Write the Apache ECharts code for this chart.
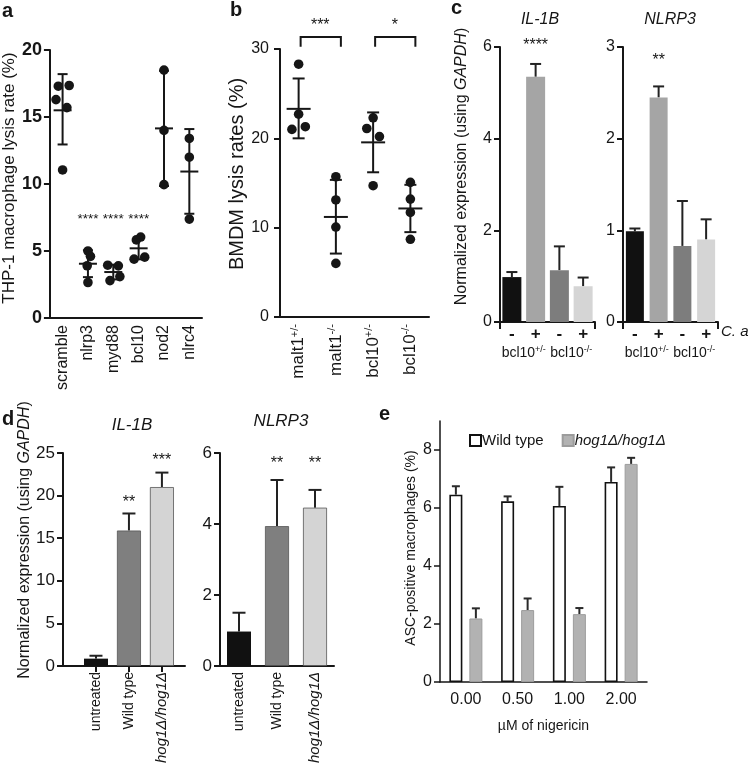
<!DOCTYPE html>
<html><head><meta charset="utf-8">
<script src="https://cdn.jsdelivr.net/npm/echarts@6/dist/echarts.min.js"></script>
<style>html,body{margin:0;padding:0;background:#fff}#c{width:750px;height:766px}</style>
</head><body><div id="c"></div>
<script>
// ---------------- DATA ----------------
// Panel a: THP-1 macrophage lysis rate (%)
const aCategories = ['scramble', 'nlrp3', 'myd88', 'bcl10', 'nod2', 'nlrc4'];
const aPoints = [
  [17.3, 17.35, 16.3, 15.7, 11.05],
  [5.0, 4.6, 3.9, 2.65],
  [3.94, 3.89, 2.79, 3.09],
  [6.04, 5.83, 4.54, 4.39],
  [18.5, 14.0, 9.95],
  [13.4, 12.0, 7.38]
];
const aJitter = [
  [-0.17, 0.26, -0.26, 0.17, 0],
  [0, 0.1, -0.03, 0],
  [-0.22, 0.2, -0.13, 0.26],
  [0.08, -0.09, 0.24, -0.18],
  [0, 0, 0],
  [0, 0, 0]
];
const aMean = [15.5, 4.05, 3.43, 5.2, 14.15, 10.93];
const aLow = [12.95, 3.05, 2.88, 4.38, 9.85, 7.78];
const aHigh = [18.2, 5.05, 3.98, 6.04, 18.45, 14.1];
const aStars = ['', '****', '****', '****', '', ''];
const aStarY = 7.6;

// Panel b: BMDM lysis rates (%)
const bCategories = ['malt1+/-', 'malt1-/-', 'bcl10+/-', 'bcl10-/-'];
const bPoints = [
  [28.3, 22.7, 21.0, 21.3],
  [15.7, 13.1, 10.07, 6.0],
  [22.3, 21.1, 20.2, 14.7],
  [15.07, 13.2, 11.7, 8.7]
];
const bJitter = [
  [0, 0, -0.18, 0.18],
  [0, 0, 0, 0],
  [0, -0.17, 0.17, 0],
  [0, 0, 0, 0]
];
const bMean = [23.3, 11.2, 19.55, 12.15];
const bLow = [20.0, 7.1, 16.2, 9.5];
const bHigh = [26.7, 15.35, 22.9, 14.8];
const bComparisons = [[0, 1, '***'], [2, 3, '*']];

// Panel c: normalized expression, bcl10 BMDMs -/+ C. albicans
const cTreatment = ['-', '+', '-', '+'];
const cGenotypes = ['bcl10+/-', 'bcl10-/-'];
const cIL1B = [0.98, 5.35, 1.13, 0.78];
const cIL1BErr = [1.09, 5.63, 1.65, 0.97];
const cNLRP3 = [0.99, 2.45, 0.83, 0.90];
const cNLRP3Err = [1.02, 2.57, 1.32, 1.12];
const cIL1BStars = ['', '****', '', ''];
const cIL1BStarY = 6.1;
const cNLRP3Stars = ['', '**', '', ''];
const cNLRP3StarY = 2.88;

// Panel d: normalized expression, THP-1 infected with C. albicans strains
const dCategories = ['untreated', 'Wild type', 'hog1Δ/hog1Δ'];
const dIL1B = [0.86, 15.9, 21.0];
const dIL1BErr = [1.2, 17.9, 22.7];
const dNLRP3 = [0.97, 3.94, 4.46];
const dNLRP3Err = [1.5, 5.24, 4.96];
const dIL1BStars = ['', '**', '***'];
const dIL1BStarY = [0, 19.5, 24.5];
const dNLRP3Stars = ['', '**', '**'];
const dNLRP3StarY = [0, 5.8, 5.8];

// Panel e: ASC-positive macrophages (%)
const eDoses = ['0.00', '0.50', '1.00', '2.00'];
const eSeriesNames = ['Wild type', 'hog1Δ/hog1Δ'];
const eWT = [6.46, 6.23, 6.07, 6.9];
const eWTErr = [6.75, 6.4, 6.73, 7.4];
const eHog = [2.19, 2.48, 2.34, 7.52];
const eHogErr = [2.54, 2.88, 2.55, 7.73];
const eTicks = [0, 2, 4, 6, 8];

// ---------------- STYLE ----------------
const FONT = '"Liberation Sans", Arial, Helvetica, sans-serif';
const INK = '#161616';
const cColors = ['#111111', '#a5a5a5', '#7d7d7d', '#d5d5d5'];
const dColors = ['#111111', '#7f7f7f', '#d4d4d4'];
const STAR_DROP = 3; // asterisks sit high in the em box

function supRich(size, supSize) {
  return {
    n: { fontSize: size, lineHeight: size + 2, fontFamily: FONT, color: INK },
    s: { fontSize: supSize, lineHeight: size + 2, verticalAlign: 'top', fontFamily: FONT, color: INK }
  };
}
function supFmt(name) {
  const m = /^(.*?)([+-]\/-)$/.exec(name);
  return m ? '{n|' + m[1] + '}{s|' + m[2] + '}' : '{n|' + name + '}';
}
function italFmt(name) {
  return name.indexOf('hog') === 0 ? '{i|' + name + '}' : name;
}
const italRich = size => ({ i: { fontStyle: 'italic', fontSize: size, fontFamily: FONT, color: INK } });

function axisLine(w) { return { show: true, lineStyle: { color: INK, width: w } }; }

function yAxis(grid, min, max, interval, extra) {
  return Object.assign({
    type: 'value', gridIndex: grid, min, max, interval,
    axisLine: axisLine(2), axisTick: { show: true, length: 6, lineStyle: { color: INK, width: 2 } },
    splitLine: { show: false },
    axisLabel: { fontSize: 16, color: INK, fontFamily: FONT, margin: 8 },
    nameLocation: 'middle', nameRotate: 90
  }, extra || {});
}
function yName(size, shift) {
  return { fontSize: size, color: INK, fontFamily: FONT, padding: [0, 0, 0, shift], rich: italRich(size) };
}

// ---------------- CUSTOM RENDERERS ----------------
function dotsSeries(xi, yi, points, jitter, r) {
  const data = [];
  points.forEach((arr, c) => arr.forEach((v, k) => data.push([c, v, jitter[c][k]])));
  return {
    type: 'custom', xAxisIndex: xi, yAxisIndex: yi, data, silent: true, z: 5,
    renderItem(params, api) {
      const p = api.coord([api.value(0), api.value(1)]);
      const band = api.size([1, 0])[0];
      return { type: 'circle', shape: { cx: p[0] + api.value(2) * band, cy: p[1], r }, style: { fill: INK } };
    }
  };
}
function meanSdSeries(xi, yi, mean, low, high, meanHalf, capHalf) {
  return {
    type: 'custom', xAxisIndex: xi, yAxisIndex: yi, silent: true, z: 6,
    data: mean.map((m, i) => [i, m, low[i], high[i]]),
    renderItem(params, api) {
      const x = api.value(0);
      const pm = api.coord([x, api.value(1)]);
      const pl = api.coord([x, api.value(2)]);
      const ph = api.coord([x, api.value(3)]);
      const st = { stroke: INK, lineWidth: 2 };
      return {
        type: 'group', children: [
          { type: 'line', shape: { x1: pl[0], y1: pl[1], x2: ph[0], y2: ph[1] }, style: st },
          { type: 'line', shape: { x1: pl[0] - capHalf, y1: pl[1], x2: pl[0] + capHalf, y2: pl[1] }, style: st },
          { type: 'line', shape: { x1: ph[0] - capHalf, y1: ph[1], x2: ph[0] + capHalf, y2: ph[1] }, style: st },
          { type: 'line', shape: { x1: pm[0] - meanHalf, y1: pm[1], x2: pm[0] + meanHalf, y2: pm[1] }, style: st }
        ]
      };
    }
  };
}
function barErrSeries(xi, yi, xs, tops, errs, capHalf, dx, color, lw) {
  return {
    type: 'custom', xAxisIndex: xi, yAxisIndex: yi, silent: true, z: 1,
    data: tops.map((t, i) => [xs[i], t, errs[i]]),
    renderItem(params, api) {
      const pt = api.coord([api.value(0), api.value(1)]);
      const pe = api.coord([api.value(0), api.value(2)]);
      const x = pt[0] + dx;
      const st = { stroke: color, lineWidth: lw };
      return {
        type: 'group', children: [
          { type: 'line', shape: { x1: x, y1: pt[1], x2: x, y2: pe[1] }, style: st },
          { type: 'line', shape: { x1: x - capHalf, y1: pe[1], x2: x + capHalf, y2: pe[1] }, style: st }
        ]
      };
    }
  };
}
function starSeries(xi, yi, xs, ys, labels, size) {
  const data = [];
  labels.forEach((l, i) => { if (l) data.push([xs[i], Array.isArray(ys) ? ys[i] : ys, l]); });
  return {
    type: 'custom', xAxisIndex: xi, yAxisIndex: yi, silent: true, z: 7,
    data,
    renderItem(params, api) {
      const p = api.coord([api.value(0), api.value(1)]);
      return { type: 'text', x: p[0], y: p[1] + STAR_DROP, style: { text: data[params.dataIndex][2], fill: INK, font: size + 'px ' + FONT, align: 'center', verticalAlign: 'middle' } };
    }
  };
}
function bracketSeries(xi, yi, comps, yTop, yLeg, yStar) {
  return {
    type: 'custom', xAxisIndex: xi, yAxisIndex: yi, silent: true, z: 7,
    data: comps.map(c => [c[0], c[1]]),
    renderItem(params, api) {
      const c = comps[params.dataIndex];
      const p1 = api.coord([c[0], yTop]);
      const p2 = api.coord([c[1], yTop]);
      const leg = api.coord([c[0], yLeg]);
      const ps = api.coord([c[0], yStar]);
      const st = { stroke: INK, lineWidth: 2, fill: null };
      return {
        type: 'group', children: [
          { type: 'polyline', shape: { points: [[p1[0] + 2, leg[1]], [p1[0] + 2, p1[1]], [p2[0] + 5, p2[1]], [p2[0] + 5, leg[1]]] }, style: st },
          { type: 'text', x: (p1[0] + p2[0]) / 2 + 3, y: ps[1] + STAR_DROP, style: { text: c[2], fill: INK, font: '16px ' + FONT, align: 'center', verticalAlign: 'middle' } }
        ]
      };
    }
  };
}

const idx = arr => arr.map((_, i) => i);
const idx1 = arr => arr.map((_, i) => i + 1);

// ---------------- OPTION ----------------
const gapdhName = 'Normalized expression (using {i|GAPDH})';
const tickStyle = { width: 2, color: INK };

const option = {
  animation: false,
  backgroundColor: '#ffffff',
  textStyle: { fontFamily: FONT, color: INK },
  grid: [
    { left: 49, top: 50, width: 153, height: 268 },   // a
    { left: 280, top: 49, width: 149, height: 268 },  // b
    { left: 500, top: 47, width: 95, height: 275 },   // c IL-1B
    { left: 623, top: 47, width: 95, height: 275 },   // c NLRP3
    { left: 63, top: 453, width: 122, height: 213 },  // d IL-1B
    { left: 220, top: 453, width: 114, height: 213 }, // d NLRP3
    { left: 440, top: 421, width: 207, height: 261 }  // e
  ],
  xAxis: [
    // 0 a
    { type: 'category', gridIndex: 0, data: aCategories, axisLine: axisLine(2),
      axisTick: { alignWithLabel: true, length: 6, lineStyle: tickStyle },
      axisLabel: { rotate: 90, interval: 0, fontSize: 16, color: INK, fontFamily: FONT, margin: 7 } },
    // 1 b
    { type: 'category', gridIndex: 1, data: bCategories, axisLine: axisLine(2),
      axisTick: { alignWithLabel: true, length: 6, lineStyle: tickStyle },
      axisLabel: { rotate: 90, interval: 0, margin: 7, formatter: supFmt, rich: supRich(17, 11) } },
    // 2 c IL-1B treatment row
    { type: 'category', gridIndex: 2, position: 'bottom', data: idx(cTreatment), axisLine: axisLine(2),
      axisTick: { show: true, interval: (i) => i === 2, length: 7, lineStyle: tickStyle },
      axisLabel: { interval: 0, fontSize: 17, fontWeight: 'bold', color: INK, margin: 4, formatter: (v, i) => cTreatment[i] } },
    // 3 c IL-1B genotype row
    { type: 'category', gridIndex: 2, position: 'bottom', data: cGenotypes, offset: 19, axisLine: { show: false }, axisTick: { show: false },
      axisLabel: { interval: 0, margin: 4, formatter: supFmt, rich: supRich(14, 9) } },
    // 4 c NLRP3 treatment row
    { type: 'category', gridIndex: 3, position: 'bottom', data: idx(cTreatment), axisLine: axisLine(2),
      axisTick: { show: true, interval: (i) => i === 2, length: 7, lineStyle: tickStyle },
      axisLabel: { interval: 0, fontSize: 17, fontWeight: 'bold', color: INK, margin: 4, formatter: (v, i) => cTreatment[i] } },
    // 5 c NLRP3 genotype row
    { type: 'category', gridIndex: 3, position: 'bottom', data: cGenotypes, offset: 19, axisLine: { show: false }, axisTick: { show: false },
      axisLabel: { interval: 0, margin: 4, formatter: supFmt, rich: supRich(14, 9) } },
    // 6 d IL-1B (value axis so the bars sit at 1,2,3)
    { type: 'value', gridIndex: 4, min: 0, max: 3.7, axisLine: axisLine(2), splitLine: { show: false },
      axisTick: { show: true, customValues: [1, 2, 3], length: 6, lineStyle: tickStyle },
      axisLabel: { customValues: [1, 2, 3], rotate: 90, fontSize: 14, color: INK, margin: 6,
        formatter: v => italFmt(dCategories[Math.round(v) - 1] || ''), rich: italRich(15) } },
    // 7 d NLRP3
    { type: 'category', gridIndex: 5, data: dCategories, axisLine: axisLine(2),
      axisTick: { alignWithLabel: true, length: 6, lineStyle: tickStyle },
      axisLabel: { rotate: 90, interval: 0, fontSize: 14, color: INK, margin: 6, formatter: italFmt, rich: italRich(15) } },
    // 8 e
    { type: 'category', gridIndex: 6, data: eDoses, axisLine: axisLine(1.5),
      axisTick: { alignWithLabel: true, length: 6, lineStyle: tickStyle },
      axisLabel: { fontSize: 16, color: INK, margin: 10 },
      name: 'µM of nigericin', nameLocation: 'middle', nameGap: 37,
      nameTextStyle: { fontSize: 14, color: INK, fontFamily: FONT } }
  ],
  yAxis: [
    yAxis(0, 0, 20, 5, { name: 'THP-1 macrophage lysis rate (%)', nameGap: 31, nameTextStyle: yName(17, 12),
      axisLabel: { fontSize: 18, fontWeight: 'bold', color: INK, margin: 8 } }),
    yAxis(1, 0, 30, 10, { name: 'BMDM lysis rates (%)', nameGap: 33, nameTextStyle: yName(20, 18),
      axisLabel: { fontSize: 16, color: INK, margin: 11 } }),
    yAxis(2, 0, 6, 2, { name: gapdhName, nameGap: 30, nameTextStyle: yName(16, 36) }),
    yAxis(3, 0, 3, 1, {}),
    yAxis(4, 0, 25, 5, { name: gapdhName, nameGap: 23, nameTextStyle: yName(16, 39),
      axisLabel: { fontSize: 17, color: INK, margin: 8 } }),
    yAxis(5, 0, 6, 2, { axisLabel: { fontSize: 17, color: INK, margin: 8 } }),
    yAxis(6, 0, 9, null, { name: 'ASC-positive macrophages (%)', nameGap: 22, nameTextStyle: yName(14, 7),
      axisLine: axisLine(1.5),
      axisTick: { show: true, customValues: eTicks, length: 6, lineStyle: { color: INK, width: 1.5 } },
      axisLabel: { customValues: eTicks, fontSize: 16, color: INK, margin: 8 } })
  ],
  legend: {
    data: eSeriesNames, left: 464, top: 428, icon: 'rect', itemWidth: 11, itemHeight: 11, itemGap: 18,
    textStyle: { fontSize: 15, color: INK, fontFamily: FONT, padding: [0, 0, 0, -4], rich: italRich(15) },
    formatter: italFmt, selectedMode: false
  },
  series: [
    // a
    meanSdSeries(0, 0, aMean, aLow, aHigh, 9, 5),
    dotsSeries(0, 0, aPoints, aJitter, 4.8),
    starSeries(0, 0, idx(aCategories), aStarY, aStars, 13.5),
    // b
    meanSdSeries(1, 1, bMean, bLow, bHigh, 12, 6),
    dotsSeries(1, 1, bPoints, bJitter, 4.8),
    bracketSeries(1, 1, bComparisons, 31.35, 30.25, 32.9),
    // c IL-1B
    { type: 'bar', xAxisIndex: 2, yAxisIndex: 2, barWidth: 19, silent: true, z: 2,
      data: cIL1B.map((v, i) => ({ value: v, itemStyle: { color: cColors[i] } })) },
    barErrSeries(2, 2, idx(cIL1B), cIL1B, cIL1BErr, 5.5, 0, '#222', 2),
    starSeries(2, 2, idx(cIL1B), cIL1BStarY, cIL1BStars, 16),
    // c NLRP3
    { type: 'bar', xAxisIndex: 4, yAxisIndex: 3, barWidth: 18, silent: true, z: 2,
      data: cNLRP3.map((v, i) => ({ value: v, itemStyle: { color: cColors[i] } })) },
    barErrSeries(4, 3, idx(cNLRP3), cNLRP3, cNLRP3Err, 5.5, 0, '#222', 2),
    starSeries(4, 3, idx(cNLRP3), cNLRP3StarY, cNLRP3Stars, 16),
    // d IL-1B
    { type: 'bar', xAxisIndex: 6, yAxisIndex: 4, barWidth: 24, silent: true, z: 2,
      data: dIL1B.map((v, i) => ({ value: [i + 1, v], itemStyle: { color: dColors[i], borderColor: '#555', borderWidth: i ? 0.8 : 0 } })) },
    barErrSeries(6, 4, idx1(dIL1B), dIL1B, dIL1BErr, 6.5, 0, '#222', 2),
    starSeries(6, 4, idx1(dIL1B), dIL1BStarY, dIL1BStars, 16),
    // d NLRP3
    { type: 'bar', xAxisIndex: 7, yAxisIndex: 5, barWidth: 24, silent: true, z: 2,
      data: dNLRP3.map((v, i) => ({ value: v, itemStyle: { color: dColors[i], borderColor: '#555', borderWidth: i ? 0.8 : 0 } })) },
    barErrSeries(7, 5, idx(dNLRP3), dNLRP3, dNLRP3Err, 6.5, 0, '#222', 2),
    starSeries(7, 5, idx(dNLRP3), dNLRP3StarY, dNLRP3Stars, 16),
    // e
    { name: eSeriesNames[0], type: 'bar', xAxisIndex: 8, yAxisIndex: 6, barWidth: 13, barGap: '54%', silent: true, z: 2,
      itemStyle: { color: '#ffffff', borderColor: '#111', borderWidth: 1.6 }, data: eWT },
    { name: eSeriesNames[1], type: 'bar', xAxisIndex: 8, yAxisIndex: 6, barWidth: 13, barGap: '54%', silent: true, z: 2,
      itemStyle: { color: '#b2b2b2', borderColor: '#9c9c9c', borderWidth: 1 }, data: eHog },
    barErrSeries(8, 6, idx(eWT), eWT, eWTErr, 4, -10, '#2a2a2a', 2),
    barErrSeries(8, 6, idx(eHog), eHog, eHogErr, 4, 10, '#2a2a2a', 2)
  ],
  graphic: [
    { type: 'text', x: 2, y: 11, style: { text: 'a', font: 'bold 20px ' + FONT, fill: INK, verticalAlign: 'middle' } },
    { type: 'text', x: 230, y: 10, style: { text: 'b', font: 'bold 20px ' + FONT, fill: INK, verticalAlign: 'middle' } },
    { type: 'text', x: 451, y: 8, style: { text: 'c', font: 'bold 20px ' + FONT, fill: INK, verticalAlign: 'middle' } },
    { type: 'text', x: 2, y: 419, style: { text: 'd', font: 'bold 20px ' + FONT, fill: INK, verticalAlign: 'middle' } },
    { type: 'text', x: 379, y: 414, style: { text: 'e', font: 'bold 20px ' + FONT, fill: INK, verticalAlign: 'middle' } },
    { type: 'text', x: 540, y: 20, style: { text: 'IL-1B', font: 'italic 16px ' + FONT, fill: INK, align: 'center', verticalAlign: 'middle' } },
    { type: 'text', x: 670, y: 20, style: { text: 'NLRP3', font: 'italic 16px ' + FONT, fill: INK, align: 'center', verticalAlign: 'middle' } },
    { type: 'text', x: 132, y: 425, style: { text: 'IL-1B', font: 'italic 17px ' + FONT, fill: INK, align: 'center', verticalAlign: 'middle' } },
    { type: 'text', x: 281, y: 421, style: { text: 'NLRP3', font: 'italic 17px ' + FONT, fill: INK, align: 'center', verticalAlign: 'middle' } },
    { type: 'text', x: 721, y: 332, style: { text: 'C. a', font: 'italic 15px ' + FONT, fill: INK, verticalAlign: 'middle' } }
  ]
};

const chart = echarts.init(document.getElementById('c'), null, { renderer: 'canvas', width: 750, height: 766 });
chart.setOption(option);
</script>
</body></html>
